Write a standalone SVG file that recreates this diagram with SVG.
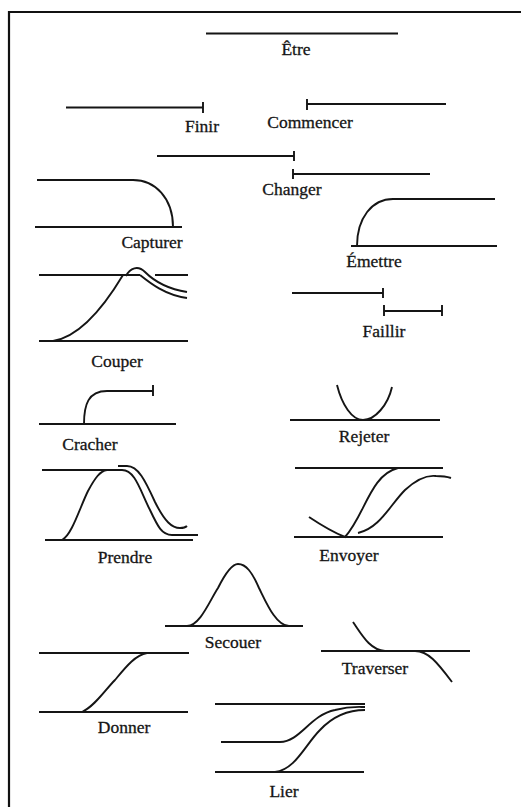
<svg xmlns="http://www.w3.org/2000/svg" width="521" height="807" viewBox="0 0 521 807">
<style>
.s{fill:none;stroke:#151515;stroke-width:1.9;stroke-linecap:butt}
.t{font-family:"Liberation Serif","Times New Roman",serif;font-size:17.5px;fill:#151515;stroke:#151515;stroke-width:0.3;text-anchor:middle}
</style>
<rect width="521" height="807" fill="#ffffff"/>
<path d="M8,12 H521 M9,11 V807" fill="none" stroke="#111" stroke-width="2.2"/>
<g id="connectors"></g>
<g id="etre"><path class="s" d="M206,33.5 H398"/><text class="t" x="296" y="55">Être</text></g>
<g id="finir"><path class="s" d="M66,107.5 H203 M203,102 V113"/><text class="t" x="202" y="132">Finir</text></g>
<g id="commencer"><path class="s" d="M307,99 V110 M307,104 H446"/><text class="t" x="310" y="128">Commencer</text></g>
<g id="changer"><path class="s" d="M157,156 H294 M294,151 V161 M293,174 H430 M293,169 V179"/><text class="t" x="292" y="195">Changer</text></g>
<g id="capturer"><path class="s" d="M37,180 H133 C155,180 173,198 173,227 M35,227 H182"/><text class="t" x="152" y="248">Capturer</text></g>
<g id="emettre"><path class="s" d="M393,199 H495 M357,246 C357,218 372,199 393,199 M351,246 H497"/><text class="t" x="374" y="267">Émettre</text></g>
<g id="couper"><path class="s" d="M39,275 H140 M155,275 H188 M39,341 H188 M53,341 C78,337 102,310 123,275 M140,275 C150,283 165,295 187,298 M126,276 C130,268 138,265 145,272 C155,282 168,289 187,292"/><text class="t" x="117" y="367">Couper</text></g>
<g id="faillir"><path class="s" d="M292,293 H383 M383,288 V298 M384,311 H442 M384,305 V316 M442,305 V316"/><text class="t" x="384" y="337">Faillir</text></g>
<g id="cracher"><path class="s" d="M39,424 H176 M84,424 C84,405 88,391 107,391 H153 M153,385 V396"/><text class="t" x="90" y="450">Cracher</text></g>
<g id="rejeter"><path class="s" d="M290,420 H440 M337,385 C342,405 352,420 363,420 C375,420 388,405 392,387"/><text class="t" x="364" y="442">Rejeter</text></g>
<g id="prendre"><path class="s" d="M42,470 H122 M45,540 H193 M62,540 C72,535 80,507 88,491 C95,478 100,471 107,470 M122,470 C135,470 140,490 150,510 C158,527 162,535 172,535 H198 M118,466 H127 C138,466 145,480 155,502 C165,522 172,528 180,528 C184,528 186,527 187,526"/><text class="t" x="125" y="563">Prendre</text></g>
<g id="envoyer"><path class="s" d="M295,468 H443 M294,537 H443 M309,517 Q330,531 345,537 C365,515 370,475 398,468 M358,533 C380,528 390,505 405,490 C418,478 428,475 436,476 C442,476 448,477 451,478"/><text class="t" x="349" y="561">Envoyer</text></g>
<g id="secouer"><path class="s" d="M165,626 H303 M187,626 C200,626 210,600 218,588 C226,572 232,564 238,564 C246,564 252,572 259,588 C266,602 276,626 289,626"/><text class="t" x="233" y="648">Secouer</text></g>
<g id="traverser"><path class="s" d="M321,651 H470 M353,622 C362,635 370,650 385,651 H415 C428,651 437,662 452,682"/><text class="t" x="375" y="674">Traverser</text></g>
<g id="donner"><path class="s" d="M39,653 H189 M39,712 H188 M82,712 C95,706 105,690 115,680 C125,668 135,655 147,653"/><text class="t" x="124" y="733">Donner</text></g>
<g id="lier"><path class="s" d="M215,704 H365 M215,772 H364 M221,742 H280 C300,742 310,715 335,710 C350,706 358,707 365,707 M275,772 C295,770 305,745 320,730 C335,714 350,710 365,710"/><text class="t" x="284" y="797">Lier</text></g>
</svg>
